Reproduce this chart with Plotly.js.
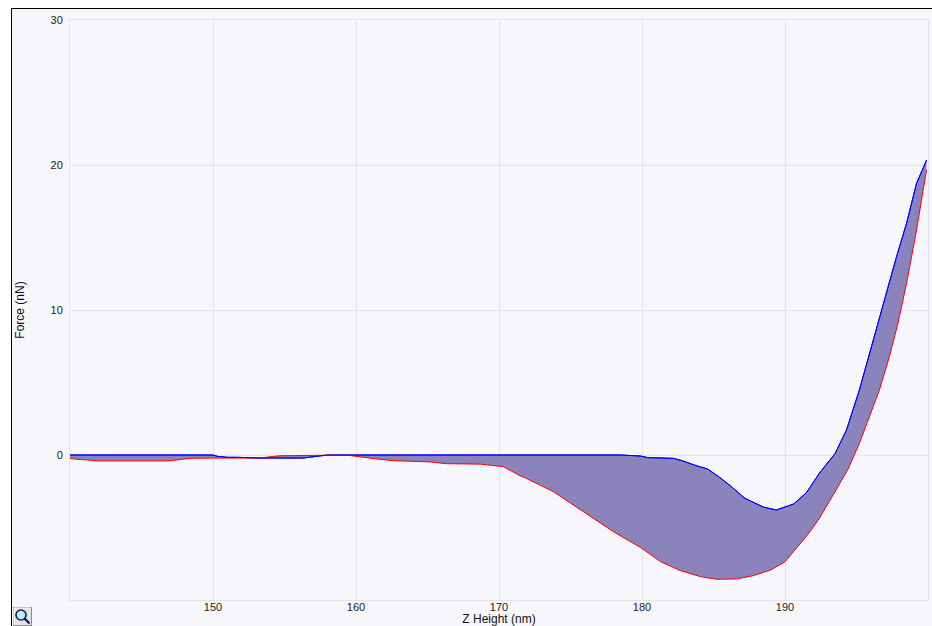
<!DOCTYPE html>
<html>
<head>
<meta charset="utf-8">
<script src="https://cdn.plot.ly/plotly-3.0.1.min.js"></script>
<style>
  html, body { margin: 0; padding: 0; background: #ffffff; }
  #frame { position: absolute; left: 11px; top: 8px; width: 921px; height: 618px;
           border-left: 1px solid #000; border-top: 1px solid #000; background: #f7f7fb; }
  #chart { position: absolute; left: 0; top: 0; width: 920px; height: 617px; }
  #zoombtn { position: absolute; left: 1px; top: 598px; width: 19px; height: 19px; }
</style>
</head>
<body>
<div id="frame">
  <div id="chart"></div>
  <svg id="zoombtn" width="19" height="19" viewBox="0 0 19 19">
    <rect x="0.5" y="0.5" width="18" height="18" fill="#e4e4e4" stroke="#8c8c8c"/>
    <line x1="1" y1="1" x2="18" y2="1" stroke="#ffffff"/>
    <line x1="1" y1="1" x2="1" y2="18" stroke="#ffffff"/>
    <circle cx="8" cy="8" r="5" fill="#bfeff7" stroke="#0b1f5c" stroke-width="1.6"/>
    <line x1="11.5" y1="11.5" x2="16.5" y2="16.5" stroke="#0b1f5c" stroke-width="2.4"/>
  </svg>
</div>
<script>
// Approach (blue) curve
const blueZ = [140, 150.0, 150.3, 151.0, 151.7, 153.3, 156.3, 157.0, 157.7, 158.0, 160, 170, 178.5,
  179.9, 180.4, 182.2, 182.8, 183.8, 184.6, 185.5, 186.2, 187.2, 188.5, 189.4, 190.6, 191.5, 192.4,
  193.5, 194.3, 195.2, 195.9, 196.6, 197.1, 197.8, 198.5, 199.2, 199.9];
const blueF = [0, 0, -0.09, -0.16, -0.16, -0.21, -0.21, -0.14, -0.05, 0, 0, 0, 0,
  -0.07, -0.18, -0.23, -0.39, -0.74, -0.97, -1.6, -2.14, -2.99, -3.6, -3.79, -3.38, -2.6, -1.26,
  0.1, 1.72, 4.48, 7.0, 9.54, 11.15, 13.68, 15.98, 18.74, 20.34];

// Retract (red) curve
const redZ = [140, 140.3, 141.2, 141.9, 146.9, 147.7, 148.4, 150.0, 153.3, 154.0, 154.7, 159.3,
  160.0, 160.7, 161.5, 162.6, 165.2, 166.3, 168.7, 169.4, 170.3, 171.5, 171.9, 173.8, 175.2, 175.7,
  177.5, 178.0, 179.9, 181.3, 182.7, 184.1, 185.2, 186.6, 187.8, 189.0, 190.0, 191.0, 191.5, 192.0,
  192.4, 193.4, 194.4, 195.2, 196.6, 197.3, 197.9, 198.5, 199.2, 199.7, 199.9];
const redF = [-0.23, -0.28, -0.34, -0.41, -0.41, -0.3, -0.23, -0.21, -0.21, -0.12, -0.05, 0,
  -0.1, -0.18, -0.28, -0.39, -0.48, -0.6, -0.63, -0.71, -0.8, -1.45, -1.61, -2.53, -3.45, -3.79,
  -4.94, -5.29, -6.38, -7.36, -7.98, -8.39, -8.57, -8.55, -8.32, -7.93, -7.36, -6.2, -5.6, -4.94,
  -4.37, -2.7, -0.99, 0.8, 4.48, 6.78, 9.08, 11.84, 15.52, 18.5, 19.66];

const xTicks = [150, 160, 170, 180, 190];
const yTicks = [0, 10, 20, 30];

const font = 'Liberation Sans, Arial, sans-serif';

const traces = [
  { x: blueZ, y: blueF, type: 'scatter', mode: 'lines', line: { color: '#0000ff', width: 1 },
    hoverinfo: 'skip', showlegend: false },
  { x: redZ, y: redF, type: 'scatter', mode: 'lines', line: { color: '#ff0000', width: 1 },
    fill: 'tonexty', fillcolor: '#8a83bc', hoverinfo: 'skip', showlegend: false },
  { x: blueZ, y: blueF, type: 'scatter', mode: 'lines', line: { color: '#0000ff', width: 1 },
    hoverinfo: 'skip', showlegend: false }
];

const layout = {
  width: 920, height: 617,
  margin: { l: 58, r: 4, t: 11, b: 26, pad: 0 },
  paper_bgcolor: '#f7f7fb',
  plot_bgcolor: '#f7f7fb',
  font: { family: font, size: 11, color: '#222222' },
  showlegend: false,
  xaxis: {
    range: [140, 200], tickvals: xTicks, ticktext: xTicks.map(String),
    showgrid: true, gridcolor: '#e3e3ea', gridwidth: 1, zeroline: false,
    showline: true, mirror: true, linecolor: '#e3e3ea', linewidth: 1,
    ticks: '', ticklabelstandoff: -3, tickfont: { family: font, size: 11, color: '#222222' },
    title: { text: 'Z Height (nm)', font: { family: font, size: 12, color: '#111111' }, standoff: 2 },
    automargin: false
  },
  yaxis: {
    range: [-10, 30], tickvals: yTicks, ticktext: yTicks.map(String),
    showgrid: true, gridcolor: '#e3e3ea', gridwidth: 1, zeroline: false,
    showline: true, mirror: true, linecolor: '#e3e3ea', linewidth: 1,
    ticks: 'outside', ticklen: 4, tickcolor: 'rgba(0,0,0,0)',
    tickfont: { family: font, size: 11, color: '#222222' },
    title: { text: 'Force (nN)', font: { family: font, size: 12, color: '#111111' }, standoff: 23 },
    automargin: false
  }
};

Plotly.newPlot('chart', traces, layout, { displayModeBar: false, staticPlot: true });
</script>
</body>
</html>
